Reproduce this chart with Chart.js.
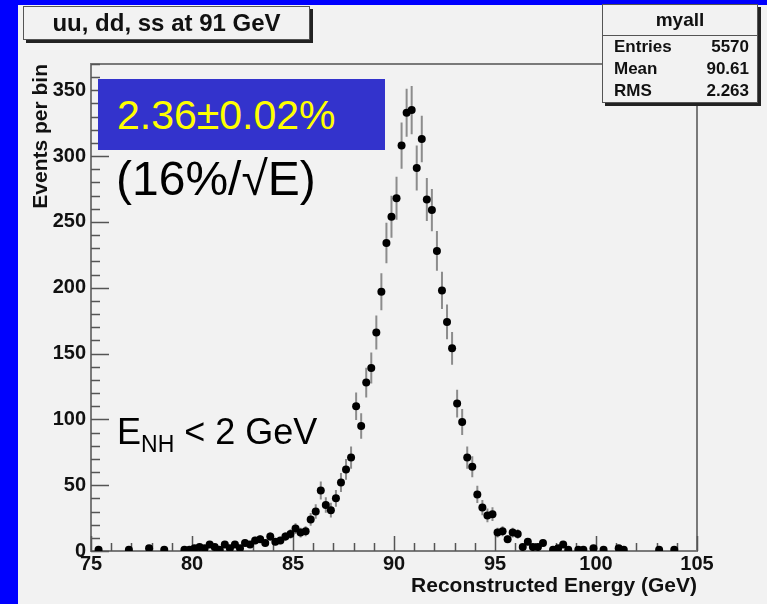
<!DOCTYPE html>
<html>
<head>
<meta charset="utf-8">
<script src="https://cdn.jsdelivr.net/npm/chart.js@4.4.1/dist/chart.umd.min.js"></script>
<style>
  html, body { margin: 0; padding: 0; }
  body { width: 767px; height: 604px; background: #0000ff; position: relative; overflow: hidden; font-family: Arial, "Liberation Sans", sans-serif; }
  #panel { position: absolute; left: 18px; top: 5px; right: 0; bottom: 0; background: #f2f2f2; }
  #dataChart { position: absolute; left: 0; top: 0; }
  .pave { position: absolute; background: #f2f2f2; border: 1px solid #555; box-shadow: 3px 3px 0 #222; color: #111; font-weight: bold; }
  #title { left: 23px; top: 6px; width: 285px; height: 32px; font-size: 24px; line-height: 32px; text-align: center; }
  #stats { left: 602px; top: 4px; width: 154px; height: 97px; font-size: 17px; }
  #stats .head { height: 30px; line-height: 30px; text-align: center; font-size: 19px; border-bottom: 1px solid #555; }
  #stats .row { display: flex; justify-content: space-between; padding: 0 8px 0 11px; height: 22px; line-height: 22px; }
  #stats .row:first-of-type { margin-top: 2px; }
  #reso { position: absolute; left: 98px; top: 79px; width: 287px; height: 71px; background: #3333cc; color: #ffff00; font-size: 41px; line-height: 73px; padding-left: 19px; box-sizing: border-box; }
  #stoch { position: absolute; left: 116px; top: 155px; font-size: 48px; line-height: 1; color: #000; }
  #enh { position: absolute; left: 117px; top: 414px; font-size: 36px; line-height: 1; color: #000; }
  #enh sub { font-size: 23px; vertical-align: -8px; }
</style>
</head>
<body>
<div id="panel"></div>
<canvas id="dataChart" width="767" height="604"></canvas>
<div id="title" class="pave">uu, dd, ss at 91 GeV</div>
<div id="stats" class="pave">
  <div class="head">myall</div>
  <div class="row"><span>Entries</span><span>5570</span></div>
  <div class="row"><span>Mean</span><span>90.61</span></div>
  <div class="row"><span>RMS</span><span>2.263</span></div>
</div>
<div id="reso">2.36±0.02%</div>
<div id="stoch">(16%/√E)</div>
<div id="enh">E<sub>NH</sub> &lt; 2 GeV</div>
<script>
// bin centres (GeV) of the non-empty bins, 0.25 GeV wide
const energy = [75.375, 76.875, 77.875, 78.625, 79.625, 79.875,
  80.125, 80.375, 80.625, 80.875, 81.125, 81.375, 81.625, 81.875,
  82.125, 82.375, 82.625, 82.875, 83.125, 83.375, 83.625, 83.875,
  84.125, 84.375, 84.625, 84.875, 85.125, 85.375, 85.625, 85.875,
  86.125, 86.375, 86.625, 86.875, 87.125, 87.375, 87.625, 87.875,
  88.125, 88.375, 88.625, 88.875, 89.125, 89.375, 89.625, 89.875,
  90.125, 90.375, 90.625, 90.875, 91.125, 91.375, 91.625, 91.875,
  92.125, 92.375, 92.625, 92.875, 93.125, 93.375, 93.625, 93.875,
  94.125, 94.375, 94.625, 94.875, 95.125, 95.375, 95.625, 95.875,
  96.125, 96.375, 96.625, 96.875, 97.125, 97.375, 97.875, 98.125,
  98.375, 98.625, 99.125, 99.375, 99.875, 100.375, 101.125, 101.375,
  103.125, 103.875];

const counts = [1, 1, 2, 1, 1, 1,
  2, 3, 2, 5, 3, 1, 5, 2,
  5, 2, 6, 5, 8, 9, 6, 11,
  7, 8, 11, 13, 17, 14, 15, 24,
  30, 46, 35, 31, 40, 52, 62, 71,
  110, 95, 128, 139, 166, 197, 234, 254,
  268, 308, 333, 335, 291, 313, 267, 259,
  228, 198, 174, 154, 112, 98, 71, 64,
  43, 33, 27, 28, 14, 15, 9, 14,
  13, 3, 7, 3, 3, 6, 1, 2,
  5, 1, 1, 1, 2, 1, 2, 1,
  1, 1];

const xRange = [75, 105];
const yRange = [0, 370];

const tickFont = { family: 'Arial', weight: 'bold', size: 20 };

// ROOT style frame, inward ticks and sqrt(N) error bars
const rootFrame = {
  id: 'rootFrame',
  beforeDatasetsDraw(chart) {
    const { ctx, chartArea: a, scales: { x, y } } = chart;
    ctx.save();
    ctx.strokeStyle = '#7a7a7a';
    ctx.lineWidth = 2;
    ctx.strokeRect(a.left, a.top, a.right - a.left, a.bottom - a.top);

    ctx.strokeStyle = '#555';
    ctx.lineWidth = 1.5;
    ctx.beginPath();
    for (let v = xRange[0]; v <= xRange[1]; v += 1) {
      const px = Math.round(x.getPixelForValue(v)) + 0.5;
      const len = v % 5 === 0 ? 15 : 8;
      ctx.moveTo(px, a.bottom);
      ctx.lineTo(px, a.bottom - len);
    }
    for (let v = 0; v <= yRange[1]; v += 10) {
      const py = Math.round(y.getPixelForValue(v)) + 0.5;
      const len = v % 50 === 0 ? 18 : 9;
      ctx.moveTo(a.left, py);
      ctx.lineTo(a.left + len, py);
    }
    ctx.stroke();

    ctx.strokeStyle = '#8c8c8c';
    ctx.lineWidth = 2;
    ctx.beginPath();
    energy.forEach((e, i) => {
      const err = Math.sqrt(counts[i]);
      const px = x.getPixelForValue(e);
      ctx.moveTo(px, y.getPixelForValue(Math.max(counts[i] - err, 0)));
      ctx.lineTo(px, y.getPixelForValue(counts[i] + err));
    });
    ctx.stroke();
    ctx.restore();
  }
};

const ctx = document.getElementById('dataChart').getContext('2d');

const chart = new Chart(ctx, {
  type: 'scatter',
  data: {
    datasets: [{
      data: energy.map((e, i) => ({ x: e, y: counts[i] })),
      pointRadius: 4,
      pointHoverRadius: 4,
      pointBackgroundColor: '#000',
      pointBorderWidth: 0
    }]
  },
  options: {
    responsive: false,
    animation: false,
    events: [],
    layout: { padding: { left: 0, top: 64, right: 70, bottom: 0 } },
    plugins: { legend: { display: false }, tooltip: { enabled: false } },
    scales: {
      x: {
        type: 'linear',
        min: xRange[0],
        max: xRange[1],
        grid: { display: false, drawTicks: false },
        border: { display: false },
        ticks: { stepSize: 5, padding: 1, color: '#111', font: tickFont, maxRotation: 0 },
        title: {
          display: true, text: 'Reconstructed Energy (GeV)', align: 'end', color: '#111',
          font: { family: 'Arial', weight: 'bold', size: 21 }, padding: { top: 0, bottom: 5 }
        },
        afterFit: (s) => { s.height = 53; }
      },
      y: {
        min: yRange[0],
        max: yRange[1],
        grid: { display: false, drawTicks: false },
        border: { display: false },
        ticks: { stepSize: 50, includeBounds: false, padding: 5, color: '#111', font: tickFont },
        title: {
          display: true, text: 'Events per bin', align: 'end', color: '#111',
          font: { family: 'Arial', weight: 'bold', size: 21 }, padding: { top: 29, bottom: 0 }
        },
        afterFit: (s) => { s.width = 91; }
      }
    }
  },
  plugins: [rootFrame]
});
</script>
</body>
</html>
